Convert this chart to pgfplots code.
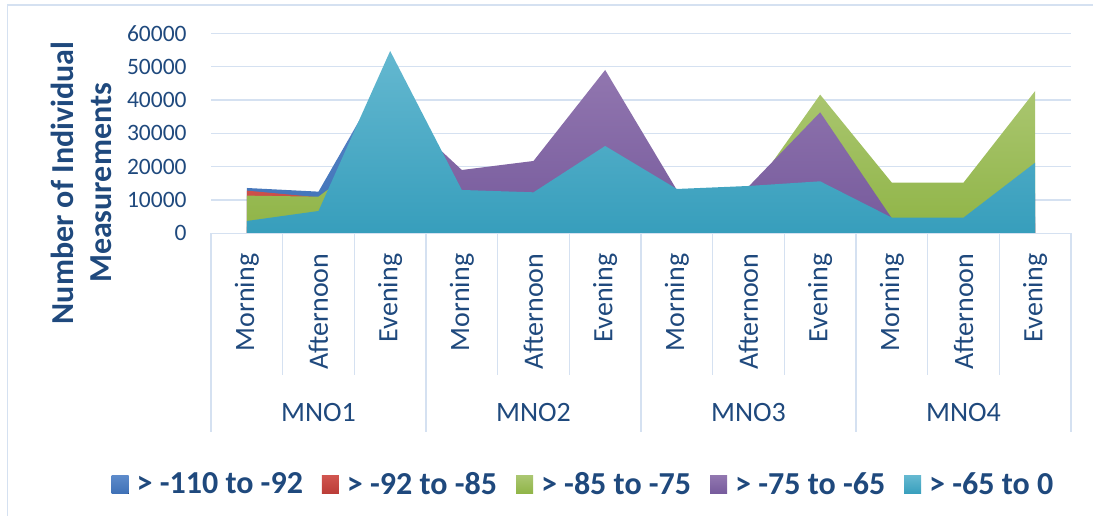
\documentclass[border=0pt]{standalone}
\usepackage{fontspec}
\setmainfont{Carlito}
\usepackage{pgfplots}
\usepackage{pgfplotstable}
\pgfplotsset{compat=1.18}
\definecolor{txt}{RGB}{31,73,125}
\definecolor{gridc}{RGB}{213,225,241}
\definecolor{blueT}{RGB}{92,138,202}\definecolor{blueB}{RGB}{62,112,182}
\definecolor{redT}{RGB}{208,84,78}\definecolor{redB}{RGB}{186,60,55}
\definecolor{greenT}{RGB}{170,198,112}\definecolor{greenB}{RGB}{143,180,70}
\definecolor{purpT}{RGB}{145,118,175}\definecolor{purpB}{RGB}{118,90,156}
\definecolor{cyanT}{RGB}{100,184,208}\definecolor{cyanB}{RGB}{55,158,188}
\pgfplotstableread{
x blue red green purple cyan
0 13600 12800 11300 2000 3700
1 12500 10800 11000 3000 6700
2 50000 15000 27000 39000 54700
3 3000 2000 10000 19000 13000
4 2000 1500 9000 21700 12300
5 5000 3000 20000 49000 26200
6 2000 1500 8000 13000 13300
7 2500 2000 11200 14000 14200
8 4000 3000 41600 36300 15600
9 1000 800 15200 4500 4700
10 1000 800 15200 3500 4700
11 5000 3000 42700 12000 21200
}\datatable
\begin{document}
\begin{tikzpicture}
\useasboundingbox (-105.5pt,-140.85pt) rectangle (441pt,116.65pt);
\draw[gridc, line width=0.75pt] (-101.75pt,-142pt) -- (-101.75pt,114.15pt) -- (443pt,114.15pt);
\begin{axis}[
  at={(0,0)}, anchor=south west,
  scale only axis, width=430pt, height=100pt,
  xmin=-0.5, xmax=11.5, ymin=0, ymax=60000,
  axis line style={draw=none},
  major tick length=0pt,
  ytick={0,10000,...,60000},
  ymajorgrids, grid style={gridc, line width=0.75pt},
  xtick={0,...,11},
  xticklabels={Morning,Afternoon,Evening,Morning,Afternoon,Evening,Morning,Afternoon,Evening,Morning,Afternoon,Evening},
  xticklabel style={rotate=90, anchor=east, inner sep=0pt, font=\fontsize{14}{14}\selectfont, text=txt},
  xticklabel shift=10pt,
  yticklabel style={anchor=east, inner sep=0pt, font=\fontsize{11.75}{12}\selectfont, text=txt},
  yticklabel shift=12pt,
  scaled y ticks=false,
  yticklabel={\pgfmathprintnumber[assume math mode=true,fixed,1000 sep={}]{\tick}},
  clip=false,
  legend columns=-1,
  legend style={at={(0.4343,-1.2585)}, anchor=center, draw=none, fill=none,
    font=\fontsize{16}{16}\selectfont\bfseries, text=txt,
    nodes={inner sep=2pt},
    /tikz/every even column/.append style={column sep=7.5pt},
    /tikz/every odd column/.append style={column sep=2pt}},
  legend image code/.code={\fill[#1] (0pt,-4.5pt) rectangle (8.5pt,4.5pt);},
]
\addplot[draw=none, top color=blueT, bottom color=blueB] table[x=x,y=blue]{\datatable} \closedcycle;
\addlegendentry{> -110 to -92}
\addplot[draw=none, top color=redT, bottom color=redB] table[x=x,y=red]{\datatable} \closedcycle;
\addlegendentry{> -92 to -85}
\addplot[draw=none, top color=greenT, bottom color=greenB] table[x=x,y=green]{\datatable} \closedcycle;
\addlegendentry{> -85 to -75}
\addplot[draw=none, top color=purpT, bottom color=purpB] table[x=x,y=purple]{\datatable} \closedcycle;
\addlegendentry{> -75 to -65}
\addplot[draw=none, top color=cyanT, bottom color=cyanB] table[x=x,y=cyan]{\datatable} \closedcycle;
\addlegendentry{> -65 to 0}
\draw[gridc, line width=0.75pt] (axis cs:-0.5,0) -- (axis cs:11.5,0);
\pgfplotsinvokeforeach{-0.5,2.5,5.5,8.5,11.5}{\draw[gridc, line width=0.75pt] (axis cs:#1,0) -- ([yshift=-99.5pt]axis cs:#1,0);}
\pgfplotsinvokeforeach{0.5,1.5,3.5,4.5,6.5,7.5,9.5,10.5}{\draw[gridc, line width=0.75pt] (axis cs:#1,0) -- ([yshift=-71pt]axis cs:#1,0);}
\node[font=\fontsize{14}{14}\selectfont, text=txt] at ([yshift=-89.85pt]axis cs:1,0) {MNO1};
\node[font=\fontsize{14}{14}\selectfont, text=txt] at ([yshift=-89.85pt]axis cs:4,0) {MNO2};
\node[font=\fontsize{14}{14}\selectfont, text=txt] at ([yshift=-89.85pt]axis cs:7,0) {MNO3};
\node[font=\fontsize{14}{14}\selectfont, text=txt] at ([yshift=-89.85pt]axis cs:10,0) {MNO4};
\end{axis}
\node[rotate=90, align=center, font=\fontsize{16}{19}\selectfont\bfseries, text=txt] at (-65pt,25.15pt) {Number of Individual\\Measurements};
\end{tikzpicture}
\end{document}
